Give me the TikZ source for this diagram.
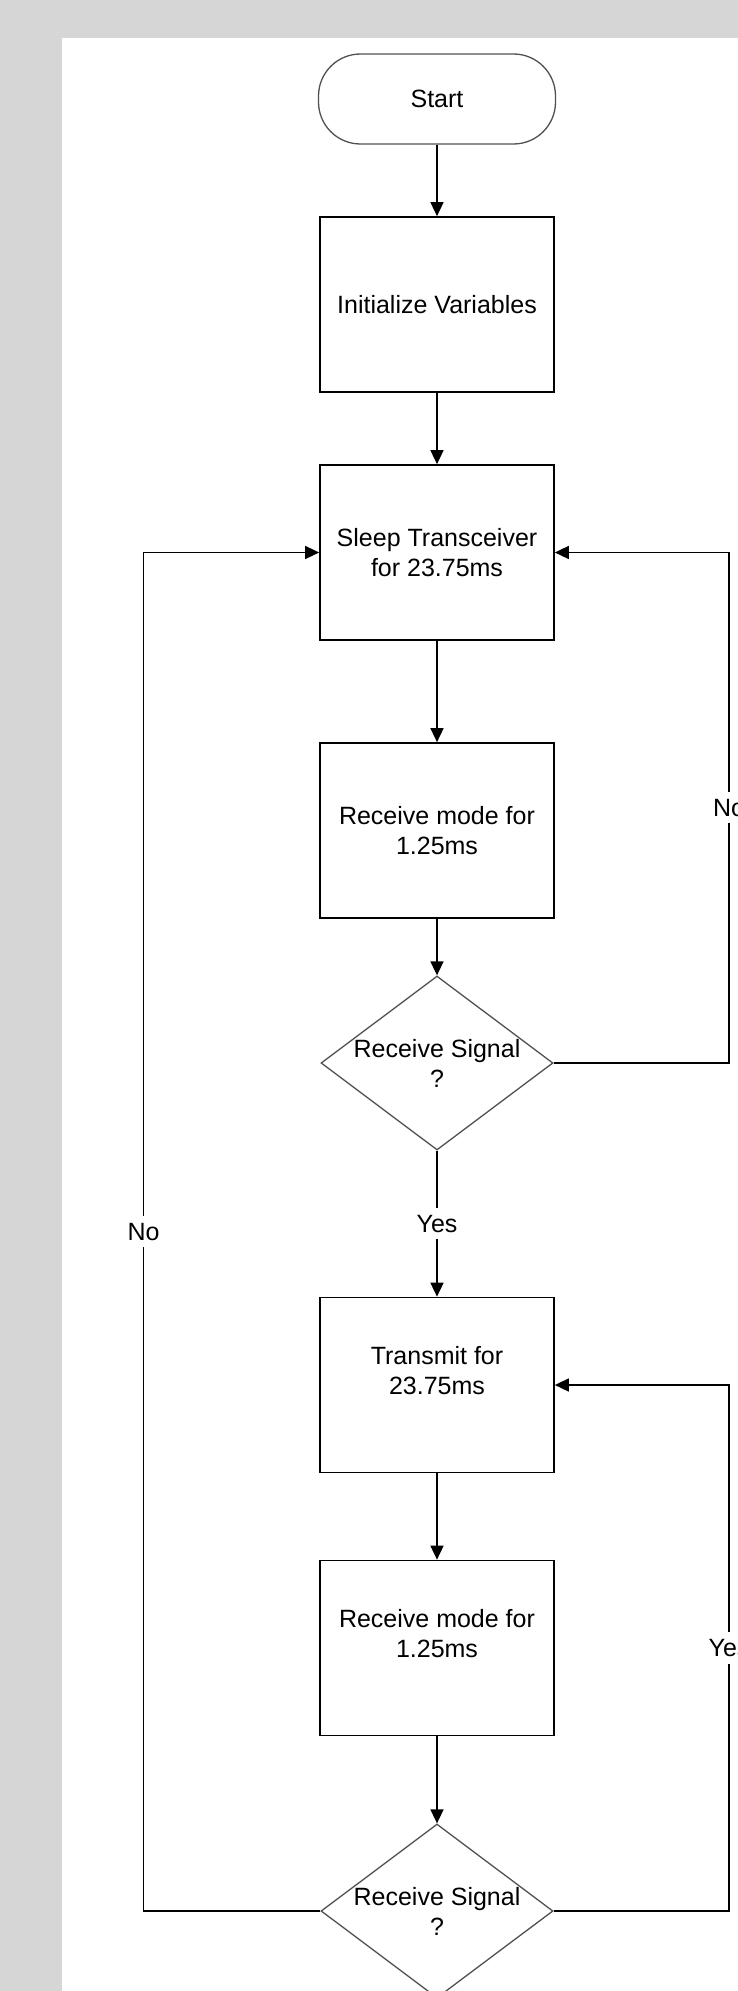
\documentclass[tikz,border=0pt]{standalone}
\usepackage{fontspec}
\setmainfont{Liberation Sans}
\usetikzlibrary{shapes.geometric,arrows.meta}
\definecolor{pagegray}{RGB}{214,214,214}
\definecolor{edgegray}{RGB}{80,80,80}

\begin{document}
\begin{tikzpicture}[x=1pt,y=-1pt,
        every node/.style={font=\fontsize{25}{30}\selectfont},
        proc/.style={draw=black,line width=1.7pt,minimum width=234pt,minimum height=175pt,inner sep=0pt,align=center},
        term/.style={draw=edgegray,line width=1.3pt,rounded corners=42pt,minimum width=237pt,minimum height=90pt,inner sep=0pt},
        decide/.style={draw=edgegray,line width=1.3pt,diamond,minimum width=232pt,minimum height=174pt,inner sep=0pt},
        flow/.style={line width=1.6pt,-{Triangle[length=14pt,width=13pt]}},
        tag/.style={fill=white,inner sep=7pt}]
        \useasboundingbox (0,0) rectangle (738,1991);
        \fill[pagegray] (0,0) rectangle (738,1991);
        \fill[white] (62,38) rectangle (738,1991);
        \coordinate (lft) at (143.5,0);
        \coordinate (rgt) at (729,0);
        \node[term] (start) at (437,99) {Start};
        \node[proc] (init) at (437,304.5) {Initialize Variables};
        \node[proc] (sleep) at (437,552.5) {Sleep Transceiver\\for 23.75ms};
        \node[proc] (recv1) at (437,830.5) {Receive mode for\\1.25ms};
        \node[decide,label={[align=center]center:{Receive Signal\\?}}] (ask1) at (437,1063) {};
        \node[proc] (send) at (437,1385) {Transmit for\\23.75ms\\~};
        \node[proc] (recv2) at (437,1648) {Receive mode for\\1.25ms\\~};
        \node[decide,label={[align=center]center:{Receive Signal\\?}}] (ask2) at (437,1911) {};
        \draw[flow] (start) -- (init);
        \draw[flow] (init) -- (sleep);
        \draw[flow] (sleep) -- (recv1);
        \draw[flow] (recv1) -- (ask1);
        \draw[flow] (ask1) -- node[tag]{Yes} (send);
        \draw[flow] (send) -- (recv2);
        \draw[flow] (recv2) -- (ask2);
        \draw[flow] (ask1.east) -| node[tag,pos=0.75]{No} (rgt |- sleep.east) -- (sleep.east);
        \draw[flow] (ask2.east) -| node[tag,pos=0.75]{Yes} (rgt |- send.east) -- (send.east);
        \draw[flow] (ask2.west) -| node[tag,pos=0.75]{No} (lft |- sleep.west) -- (sleep.west);
    \end{tikzpicture}
\end{document}
